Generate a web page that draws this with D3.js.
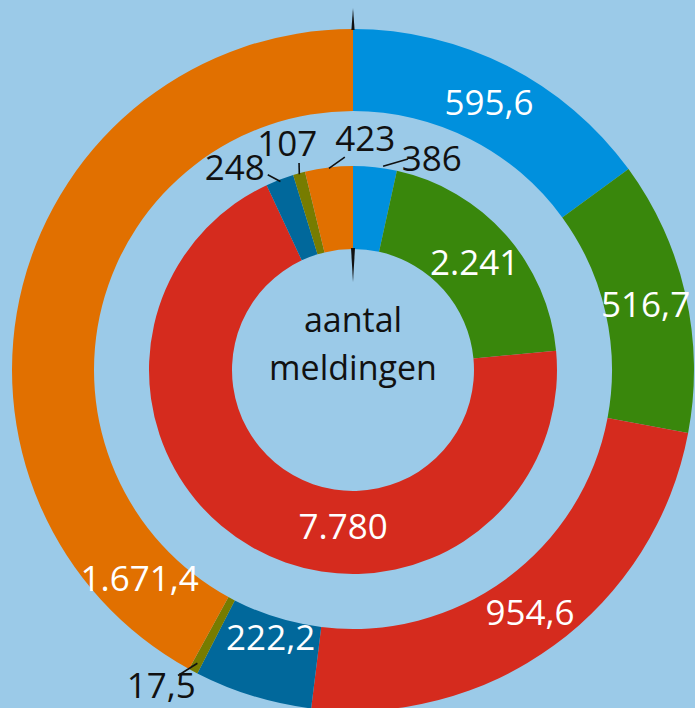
<!DOCTYPE html>
<meta charset="utf-8">
<style>
    html, body {
        margin: 0;
        padding: 0;
        background: #9bcae8;
    }
    svg {
        display: block;
    }
    text {
        font-family: "Open Sans", "Noto Sans", sans-serif;
    }
</style>

<body>
<div id="chart-container"></div>
<script src="https://cdnjs.cloudflare.com/ajax/libs/d3/7.8.5/d3.min.js"></script>
<script>
    // categories, clockwise from the top
    var categories = ["blauw", "groen", "rood", "donkerblauw", "mosgroen", "oranje"];
    var colors = ["#0090dd", "#39870c", "#d52b1e", "#01689b", "#777c00", "#e17000"];

    // outer ring values and their labels
    var outerValues = [595.6, 516.7, 954.6, 222.2, 17.5, 1671.4];
    var outerLabels = ["595,6", "516,7", "954,6", "222,2", "17,5", "1.671,4"];

    // inner ring: aantal meldingen
    var innerValues = [386, 2241, 7780, 248, 107, 423];
    var innerLabels = ["386", "2.241", "7.780", "248", "107", "423"];

    var centerText = ["aantal", "meldingen"];

    var width = 695,
        height = 708,
        cx = 353,
        cy = 370;

    var svg = d3.select("#chart-container").append("svg")
        .attr("width", width)
        .attr("height", height);

    svg.append("rect")
        .attr("width", width)
        .attr("height", height)
        .attr("fill", "#9bcae8");

    var view = svg.append("g")
        .attr("transform", "translate(" + cx + "," + cy + ")");

    var pie = d3.pie().sort(null).value(d => d);

    var rings = [
        {values: outerValues, labels: outerLabels, r0: 259, r1: 341},
        {values: innerValues, labels: innerLabels, r0: 121, r1: 204}
    ];

    // label placement tweaks (ring index, slice index) -> polar spot in degrees / px,
    // and for small slices a leader line drawn out of the ring
    var labelSpots = {
        "0-3": {r: 280},
        "0-4": {deg: 211.3, r: 369, dark: true, lead: [332, 209.8, 352]},
        "0-5": {deg: 225.7, r: 298},
        "1-0": {deg: 20.4, r: 226, dark: true, lead: [206, 14.6, 218], leadDeg: 8.4},
        "1-2": {deg: 183.6, r: 157},
        "1-3": {deg: 329.8, r: 235, dark: true, lead: [202, 336.4, 213]},
        "1-4": {deg: 343.8, r: 236, dark: true, lead: [203, 345.4, 214]},
        "1-5": {deg: 3, r: 232, dark: true, lead: [203, 357.8, 213]}
    };

    function polar(deg, r) {
        var a = deg * Math.PI / 180;
        return [Math.sin(a) * r, -Math.cos(a) * r];
    }

    rings.forEach(function(ring, ri) {
        var arcs = pie(ring.values);
        var arc = d3.arc().innerRadius(ring.r0).outerRadius(ring.r1);

        view.append("g").selectAll("path")
            .data(arcs)
            .enter().append("path")
            .attr("d", arc)
            .attr("fill", (d, i) => colors[i]);

        var lab = view.append("g");
        arcs.forEach(function(d, i) {
            var spot = labelSpots[ri + "-" + i] || {};
            var midDeg = (d.startAngle + d.endAngle) / 2 * 180 / Math.PI;
            var deg = spot.deg != null ? spot.deg : midDeg;
            var r = spot.r != null ? spot.r : (ring.r0 + ring.r1) / 2;
            var p = polar(deg, r);

            if (spot.lead) {
                var s = polar(spot.leadDeg != null ? spot.leadDeg : midDeg, spot.lead[0]);
                var e = polar(spot.lead[1], spot.lead[2]);
                lab.append("line")
                    .attr("x1", s[0]).attr("y1", s[1])
                    .attr("x2", e[0]).attr("y2", e[1])
                    .attr("stroke", "#111")
                    .attr("stroke-width", 1.6);
            }

            lab.append("text")
                .attr("x", p[0])
                .attr("y", p[1])
                .attr("dy", "0.36em")
                .attr("text-anchor", "middle")
                .attr("font-size", 35)
                .attr("fill", spot.dark ? "#111" : "#fff")
                .text(ring.labels[i]);
        });
    });

    // the two pointer ticks at twelve o'clock
    function tick(rBase, rTip, half) {
        return "M" + (-half) + "," + (-rBase) + "L" + half + "," + (-rBase) + "L0," + (-rTip) + "Z";
    }
    view.append("path").attr("d", tick(340, 362, 1.6)).attr("fill", "#111");
    view.append("path").attr("d", tick(122, 88, 2)).attr("fill", "#111");

    // centre caption
    view.append("g").selectAll("text")
        .data(centerText)
        .enter().append("text")
        .attr("x", 0)
        .attr("y", (d, i) => -38 + i * 48)
        .attr("text-anchor", "middle")
        .attr("font-size", 34)
        .attr("fill", "#111")
        .text(d => d);
</script>
</body>

</html>
